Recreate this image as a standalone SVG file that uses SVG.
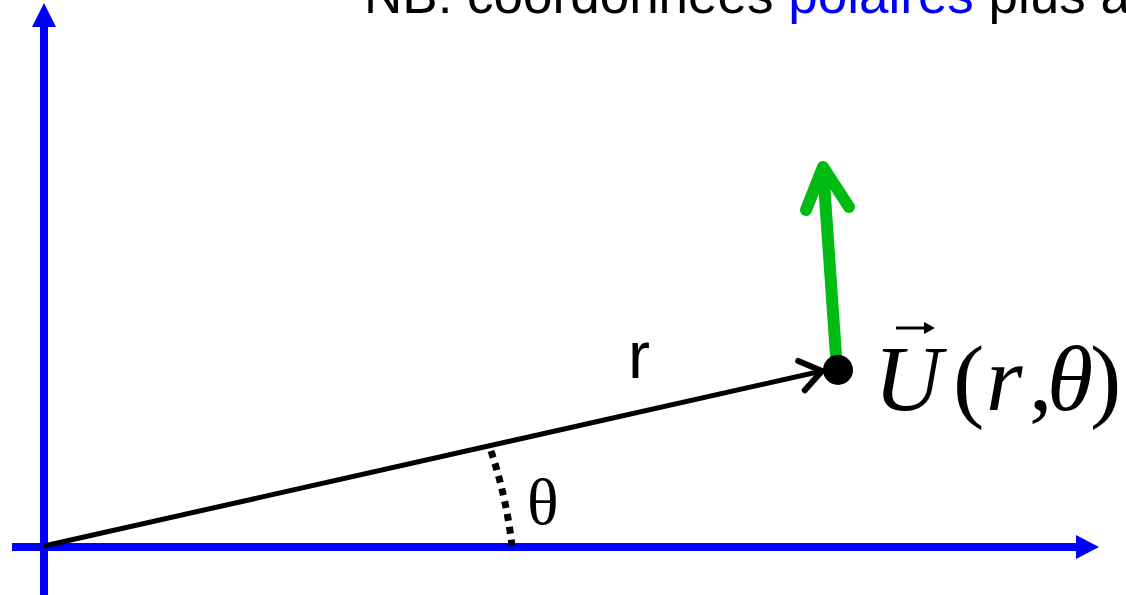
<svg xmlns="http://www.w3.org/2000/svg" width="1126" height="595" viewBox="0 0 1126 595">
<style>
.axis{stroke:#0000ff;stroke-width:8;fill:none}
.axhead{fill:#0000ff}
.sans{font-family:"Liberation Sans",Arial,sans-serif}
.serif{font-family:"Liberation Serif","Times New Roman",serif}
</style>
<defs>
<marker id="chev" markerUnits="userSpaceOnUse" viewBox="-30 -20 40 40" markerWidth="40" markerHeight="40" refX="0" refY="0" orient="auto">
<path d="M-21,-15 L0,0 L-21,15" fill="none" stroke="#000" stroke-width="6" stroke-linecap="round" stroke-linejoin="round"/>
</marker>
</defs>
<rect width="1126" height="595" fill="#fff"/>
<g id="title">
<text class="sans" x="364" y="13" font-size="53" fill="#000">NB: coordonnées <tspan fill="#0000ff">polaires</tspan> plus a</text>
</g>
<g id="axes">
<line class="axis" x1="44" y1="595" x2="44" y2="26"/>
<polygon class="axhead" points="32,27 44,3 56,27"/>
<line class="axis" x1="12" y1="547" x2="1077" y2="547"/>
<polygon class="axhead" points="1076,535 1099,547 1076,559"/>
</g>
<g id="connectors">
<line x1="44" y1="546" x2="822" y2="371" stroke="#000" stroke-width="5" marker-end="url(#chev)"/>
<path d="M491,451 A468,468 0 0 1 512,546" fill="none" stroke="#000" stroke-width="7" stroke-dasharray="7,6"/>
<path d="M836,356 L823,168" fill="none" stroke="#00bb11" stroke-width="12" stroke-linecap="round"/>
<path d="M806,210 L823,167 L849,207" fill="none" stroke="#00bb11" stroke-width="12" stroke-linecap="round" stroke-linejoin="round"/>
</g>
<g id="point">
<circle cx="838" cy="370" r="15" fill="#000"/>
</g>
<g id="labels">
<text class="sans" x="628" y="378" font-size="66" fill="#000">r</text>
<text class="serif" x="527" y="524" font-size="66" fill="#000">θ</text>
<g id="U-label">
<text class="serif" y="410" font-size="94" fill="#000"><tspan x="874" font-style="italic">U</tspan><tspan x="953">(</tspan><tspan x="986" font-style="italic">r</tspan><tspan x="1029">,</tspan><tspan x="1047" font-style="italic">θ</tspan><tspan x="1090">)</tspan></text>
<line x1="896" y1="328" x2="928" y2="328" stroke="#000" stroke-width="3"/>
<polygon points="924,322 935,328 924,334" fill="#000"/>
</g>
</g>
</svg>
